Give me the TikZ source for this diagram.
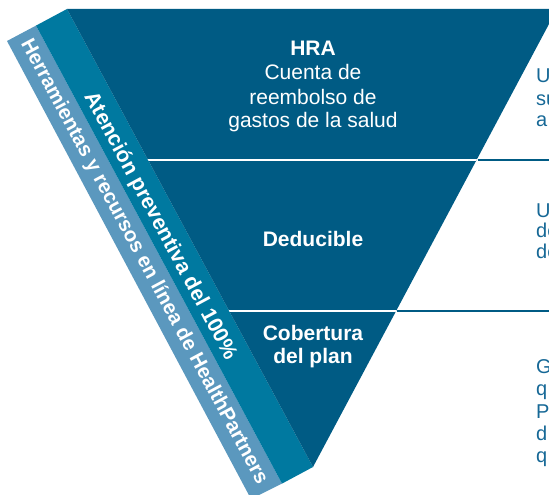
\documentclass[tikz,border=0pt]{standalone}
\usepackage{fontspec}
\setmainfont{Liberation Sans}
\definecolor{darkblue}{RGB}{0,91,132}
\definecolor{tealband}{RGB}{0,121,160}
\definecolor{lightband}{RGB}{91,152,190}
\definecolor{sidetext}{RGB}{22,104,150}
\begin{document}
\begin{tikzpicture}[x=1pt,y=-1pt,
  maintext/.style={text=white,inner sep=0pt,anchor=base,font=\fontsize{21}{24}\selectfont},
  boldtext/.style={maintext,font=\fontsize{21}{24}\selectfont\bfseries},
  bandtext/.style={text=white,inner sep=0pt,rotate=-61.76,font=\fontsize{21.3}{24}\selectfont\bfseries},
  toolstext/.style={bandtext,font=\fontsize{20.4}{24}\selectfont\bfseries},
  sidelabel/.style={text=sidetext,inner sep=0pt,anchor=base west,font=\fontsize{20}{23}\selectfont},
  whiteline/.style={white,line width=2pt},
  blueline/.style={darkblue,line width=1.8pt}]
\useasboundingbox (0,0) rectangle (549,495);
\clip (0,0) rectangle (549,495);
% geometry
\coordinate (T1) at (67,9);
\coordinate (T2) at (557,9);
\coordinate (T3) at (313,467);
\coordinate (B1) at (36,25.6);
\coordinate (B2) at (282,483.6);
\coordinate (C1) at (7,41);
\coordinate (C2) at (251,499);
% bands
\fill[lightband] (B1) -- (B2) -- (C2) -- (C1) -- cycle;
\fill[tealband] (T1) -- (T3) -- (B2) -- (B1) -- cycle;
\fill[darkblue] (T1) -- (T2) -- (T3) -- cycle;
% dividers
\coordinate (L1) at (0,160);
\coordinate (M1) at (560,160);
\coordinate (L2) at (0,311);
\coordinate (M2) at (560,311);
\begin{scope}
  \clip (T1) -- (T2) -- (T3) -- cycle;
  \draw[whiteline] (L1) -- (M1);
  \draw[whiteline] (L2) -- (M2);
\end{scope}
\coordinate (R1) at (477.5,160);
\coordinate (E1) at (549,160);
\coordinate (R2) at (397,311);
\coordinate (E2) at (549,311);
\draw[blueline] (R1) -- (E1);
\draw[blueline] (R2) -- (E2);
% triangle texts
\node[boldtext] (hra) at (313,56) {HRA};
\node[maintext] (hra1) at (313,80) {Cuenta de};
\node[maintext] (hra2) at (313,104) {reembolso de};
\node[maintext] (hra3) at (313,127) {gastos de la salud};
\node[boldtext] (ded) at (313,246) {Deducible};
\node[boldtext] (cob1) at (313,340) {Cobertura};
\node[boldtext] (cob2) at (313,363) {del plan};
% band texts
\node[bandtext] (prev) at (160,226) {Atención preventiva del 100\%};
\node[toolstext] (tools) at (144,262) {Herramientas y recursos en línea de HealthPartners};
% side texts (cut by the edge)
\node[sidelabel] (s1a) at (536,83) {U};
\node[sidelabel] (s1b) at (536,105) {su};
\node[sidelabel] (s1c) at (536,126) {a};
\node[sidelabel] (s2a) at (536,217) {U};
\node[sidelabel] (s2b) at (536,237) {de};
\node[sidelabel] (s2c) at (536,258) {de};
\node[sidelabel] (s3a) at (536,373) {G};
\node[sidelabel] (s3b) at (536,395) {q};
\node[sidelabel] (s3c) at (536,418) {P};
\node[sidelabel] (s3d) at (536,440) {d};
\node[sidelabel] (s3e) at (536,462) {q};
\end{tikzpicture}
\end{document}
